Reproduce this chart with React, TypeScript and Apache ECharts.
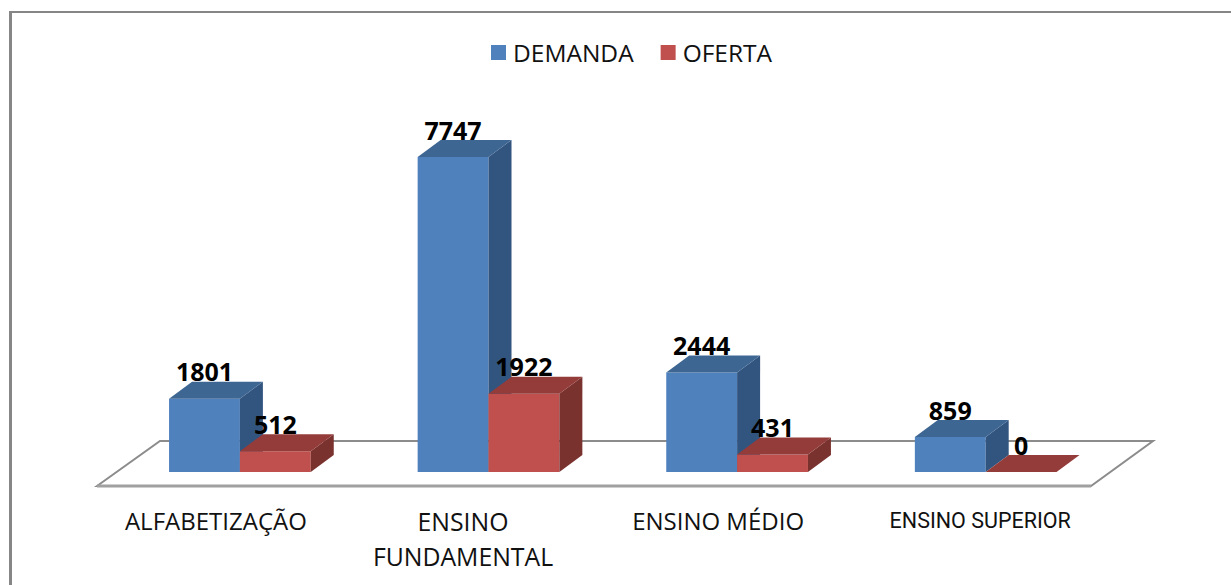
import React, { useEffect, useRef } from "react";
import * as echarts from "echarts";

const categories = ["ALFABETIZAÇÃO", "ENSINO\nFUNDAMENTAL", "ENSINO MÉDIO", "ENSINO SUPERIOR"];
const demanda = [1801, 7747, 2444, 859];
const oferta = [512, 1922, 431, 0];
const seriesNames = ["DEMANDA", "OFERTA"];
const labelPadRight = [48, 51, 38, 11];
const labelSizes = [24, 24.8, 24, 21.5];

const FONT = "'Open Sans', 'Noto Sans', sans-serif";
const NARROW_FONT = "Roboto, 'Open Sans', sans-serif";
const labelFonts = [FONT, FONT, FONT, NARROW_FONT];
const PALETTE = [
  { front: "#4F81BD", top: "#3E6693", side: "#325580" },
  { front: "#C0504D", top: "#933C3A", side: "#7A322F" },
];
const DEPTH_X = 23;
const DEPTH_Y = -17;
const BAR_RATIO = 0.285;

function makeRender(seriesIdx: number) {
  return (_params: any, api: any) => {
    const cat = api.value(0);
    const val = api.value(1);
    const [cx, yTop] = api.coord([cat, val]);
    const [, yBase] = api.coord([cat, 0]);
    const band = api.size([1, 0])[0];
    const w = band * BAR_RATIO;
    const x0 = seriesIdx === 0 ? cx - w : cx;
    const x1 = x0 + w;
    const c = PALETTE[seriesIdx];
    const children: any[] = [];
    if (yBase - yTop > 0.5) {
      children.push({
        type: "rect",
        shape: { x: x0, y: yTop, width: w, height: yBase - yTop },
        style: { fill: c.front },
      });
      children.push({
        type: "polygon",
        shape: {
          points: [
            [x1, yTop],
            [x1 + DEPTH_X, yTop + DEPTH_Y],
            [x1 + DEPTH_X, yBase + DEPTH_Y],
            [x1, yBase],
          ],
        },
        style: { fill: c.side },
      });
    }
    children.push({
      type: "polygon",
      shape: {
        points: [
          [x0, yTop],
          [x0 + DEPTH_X, yTop + DEPTH_Y],
          [x1 + DEPTH_X, yTop + DEPTH_Y],
          [x1, yTop],
        ],
      },
      style: { fill: c.top },
    });
    children.push({
      type: "text",
      style: {
        text: String(val),
        x: (x0 + x1) / 2,
        y: yTop + DEPTH_Y + 2,
        align: "center",
        verticalAlign: "bottom",
        font: `bold 25px ${FONT}`,
        fill: "#000",
      },
      z2: 10,
    });
    return { type: "group", children };
  };
}

const makeSeries = (idx: number, values: number[]) => ({
  name: seriesNames[idx],
  type: "custom",
  renderItem: makeRender(idx),
  data: values.map((v, i) => [i, v]),
  encode: { x: 0, y: 1 },
  itemStyle: { color: PALETTE[idx].front },
  clip: false,
  z: 5,
});

export default function App() {
  const ref = useRef<HTMLDivElement>(null);
  useEffect(() => {
    const chart = echarts.init(ref.current!, undefined, { renderer: "svg" });
    chart.setOption({
      animation: false,
      backgroundColor: "#fff",
      grid: { left: 115.6, right: 121, top: 157, bottom: 113 },
      legend: {
        left: 491,
        top: 40,
        padding: 0,
        data: seriesNames,
        icon: "rect",
        itemWidth: 15,
        itemHeight: 15,
        itemGap: 27,
        textStyle: { fontFamily: FONT, fontSize: 24.5, color: "#111", padding: [0, 0, 0, 2] },
      },
      xAxis: {
        type: "category",
        data: categories,
        axisLine: { show: false },
        axisTick: { show: false },
        axisLabel: {
          interval: 0,
          margin: 31,
          verticalAlign: "top",
          formatter: (v: string, i: number) =>
            v.split("\n").map((s) => `{c${i}|${s}}`).join("\n"),
          rich: Object.fromEntries(
            labelPadRight.map((p, i) => [
              `c${i}`,
              { fontFamily: labelFonts[i], fontSize: labelSizes[i], color: "#111", lineHeight: 35, padding: [0, p, 0, 0] },
            ])
          ),
        },
      },
      yAxis: { type: "value", min: 0, max: 7747, show: false },
      series: [makeSeries(0, demanda), makeSeries(1, oferta)],
      graphic: [
        {
          type: "line",
          z: -1,
          silent: true,
          shape: { x1: 10.5, y1: 12, x2: 10.5, y2: 585 },
          style: { stroke: "#868686", lineWidth: 3 },
        },
        {
          type: "line",
          z: -1,
          silent: true,
          shape: { x1: 9, y1: 12, x2: 1231, y2: 12 },
          style: { stroke: "#868686", lineWidth: 2 },
        },
        {
          type: "polygon",
          z: -1,
          silent: true,
          shape: { points: [[97, 486], [160, 441], [1153, 441], [1091, 486]] },
          style: { stroke: "#8C8C8C", lineWidth: 2, fill: "#fff" },
        },
        {
          type: "line",
          z: -1,
          silent: true,
          shape: { x1: 97, y1: 486, x2: 1091, y2: 486 },
          style: { stroke: "#A0A0A0", lineWidth: 3 },
        },
      ],
    });
    return () => chart.dispose();
  }, []);
  return <div ref={ref} style={{ position: "fixed", left: 0, top: 0, width: 1231, height: 585 }} />;
}
